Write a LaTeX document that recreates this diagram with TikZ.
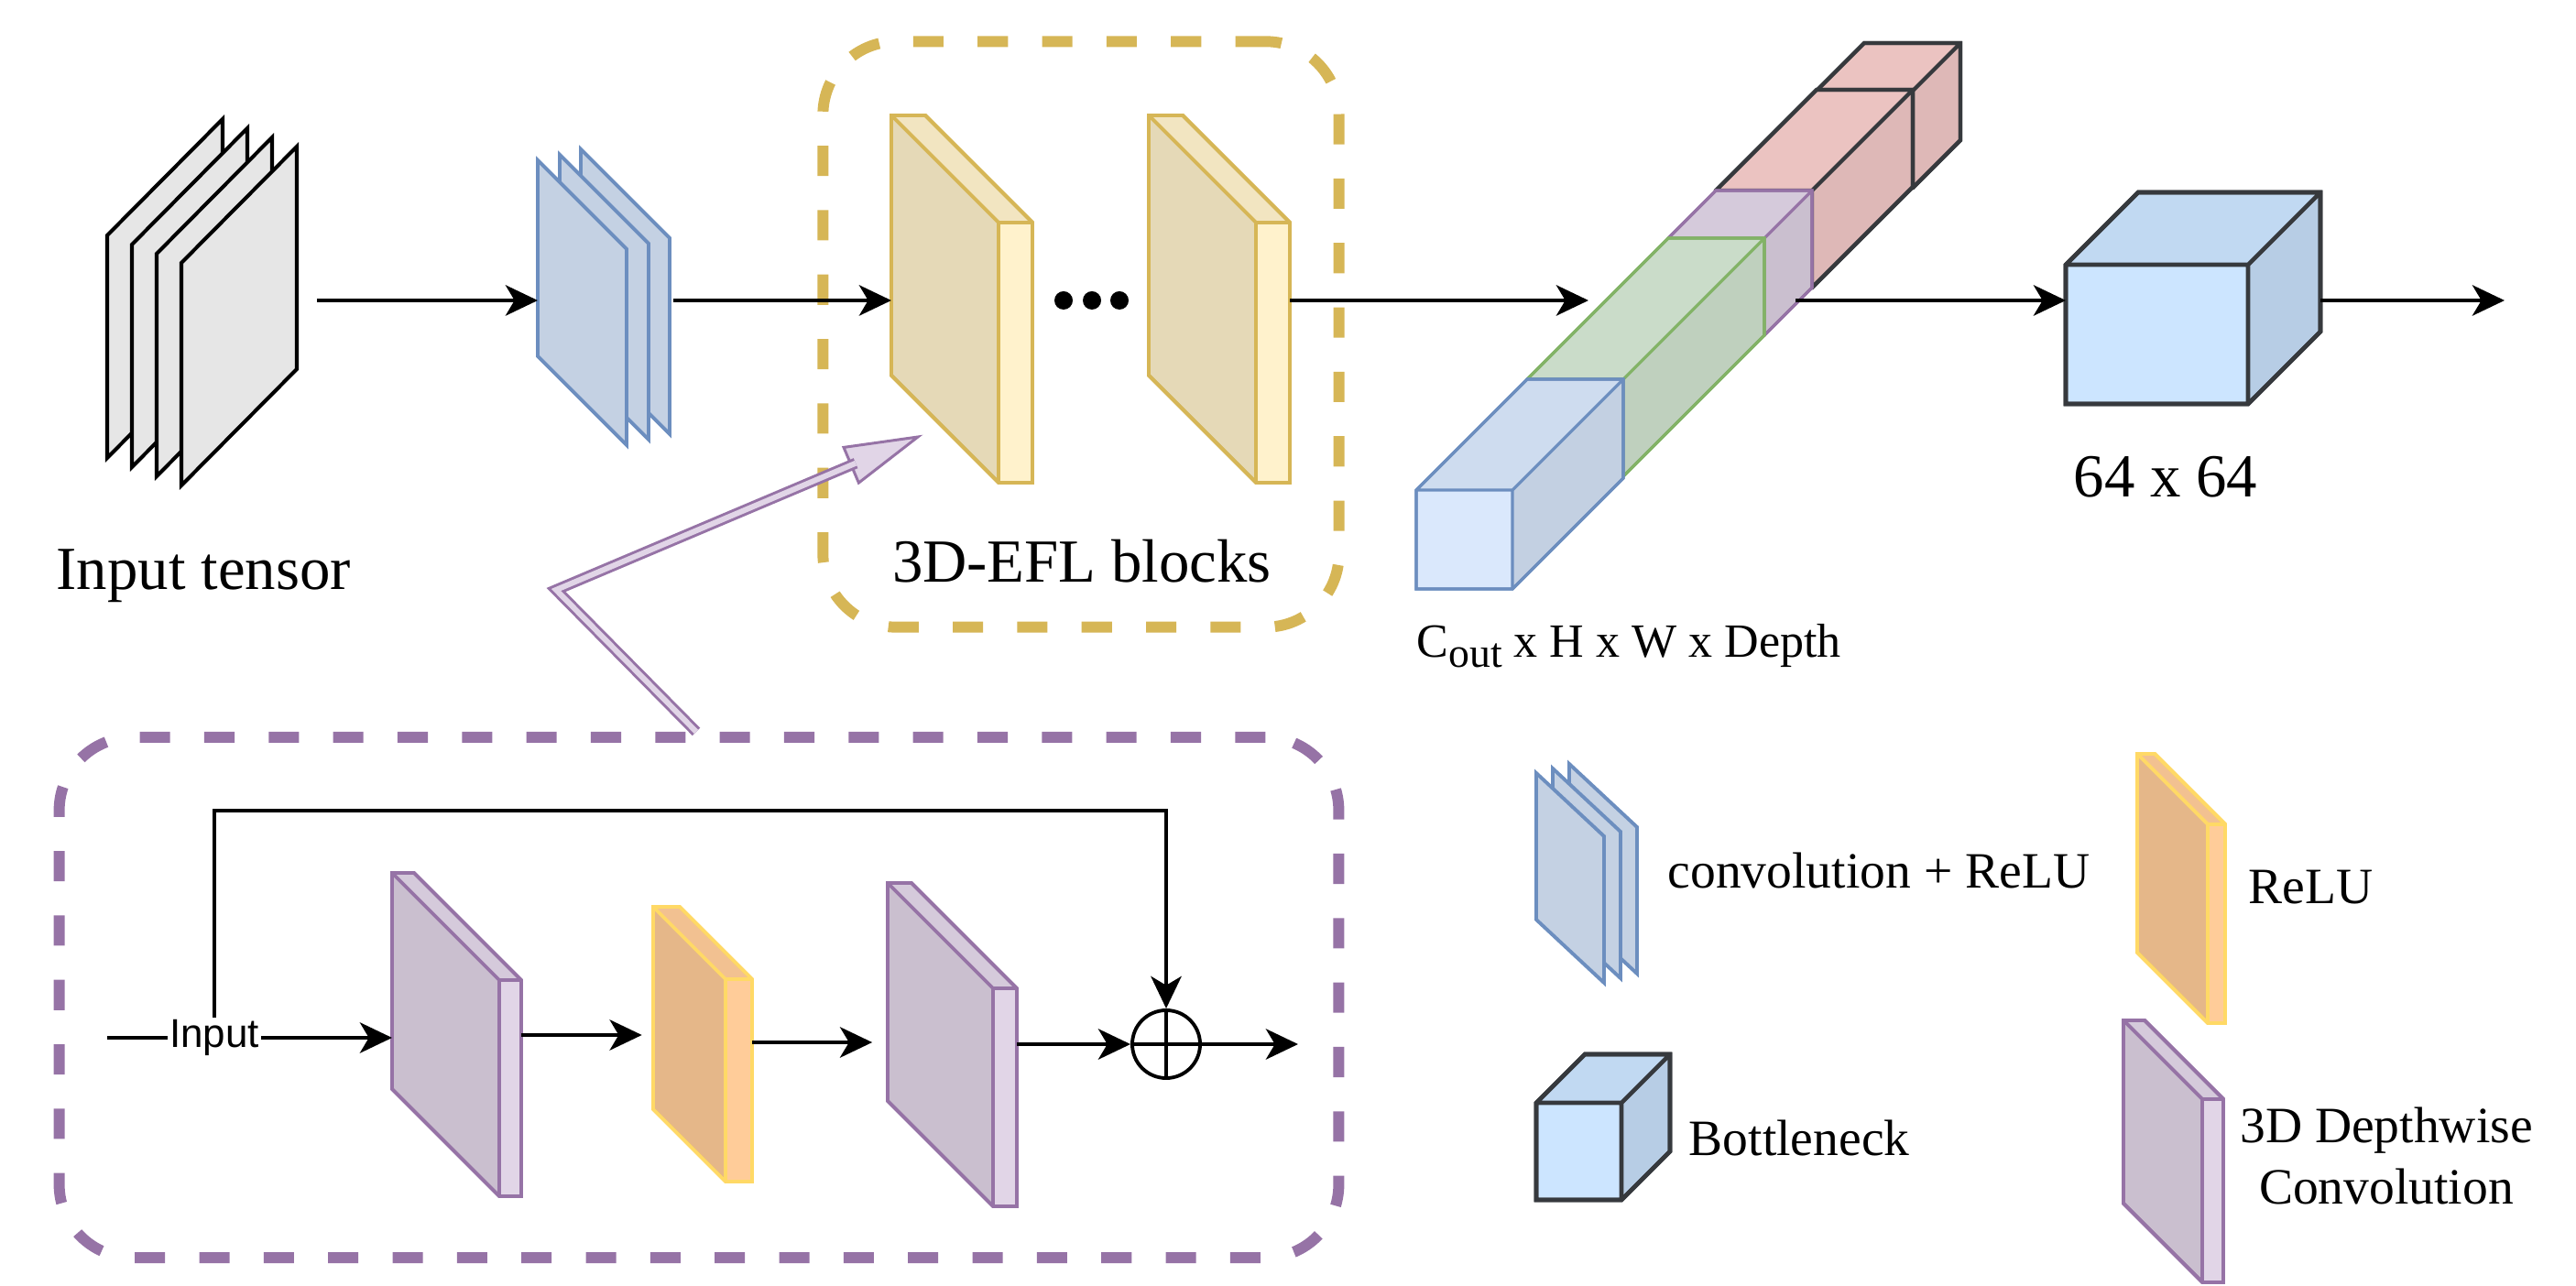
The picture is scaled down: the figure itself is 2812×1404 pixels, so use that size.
\documentclass[tikz,border=0pt]{standalone}
\usepackage{fontspec}
\setmainfont{Liberation Serif}
\newfontfamily\labelfont{Liberation Sans}
\usepackage{tikz}
\usetikzlibrary{arrows.meta,calc}

\definecolor{tensorfill}{HTML}{E6E6E6}
\definecolor{convfill}{HTML}{C4D1E3}
\definecolor{blueline}{HTML}{6C8EBF}
\definecolor{bluefill}{HTML}{DAE8FC}
\definecolor{eflline}{HTML}{D6B656}
\definecolor{eflfill}{HTML}{FFF2CC}
\definecolor{dwline}{HTML}{9673A6}
\definecolor{dwfill}{HTML}{E1D5E7}
\definecolor{reluline}{HTML}{FFD966}
\definecolor{relufill}{HTML}{FFCC99}
\definecolor{greenline}{HTML}{82B366}
\definecolor{greenfill}{HTML}{D5E8D4}
\definecolor{redfill}{HTML}{F8CECC}
\definecolor{darkline}{HTML}{36393D}
\definecolor{bnfill}{HTML}{CCE5FF}

\begin{document}
\begin{tikzpicture}[x=0.01cm,y=-0.01cm,
   arr/.style={-{Stealth[length=10pt,width=9.5pt,inset=2.8pt]},line width=1.1pt},
   tensor/.style={draw=black,fill=tensorfill,line width=1.15pt},
   conv/.style={draw=blueline,fill=convfill,line width=1.1pt},
   efl/.style={draw=eflline,fill=eflfill,line width=1.1pt},
   dw/.style={draw=dwline,fill=dwfill,line width=1.1pt},
   relu/.style={draw=reluline,fill=relufill,line width=1.1pt},
   bluecube/.style={draw=blueline,fill=bluefill,line width=0.9pt},
   greencube/.style={draw=greenline,fill=greenfill,line width=0.9pt},
   dwcube/.style={draw=dwline,fill=dwfill,line width=0.9pt},
   redcube/.style={draw=darkline,fill=redfill,line width=1.2pt},
   bncube/.style={draw=darkline,fill=bnfill,line width=1.3pt},
   dashbox/.style={draw=#1,line width=3.4pt,dash pattern=on 9.4pt off 10.6pt,
      rounded corners=0.8cm,inner sep=0pt},
   callout/.style={draw=dwline,fill=dwfill,line width=0.85pt},
   callshaft/.style={draw=dwline,double=dwfill,line width=0.85pt,double distance=1.7pt},
   dotmark/.style={circle,fill=black,inner sep=0pt,minimum size=0.2cm},
   bigtext/.style={font=\fontsize{19}{23}\selectfont,inner sep=0pt},
   legtext/.style={font=\fontsize{15.8}{19.3}\selectfont,inner sep=0pt,align=center},
   inlabel/.style={font=\labelfont\fontsize{12.5}{15}\selectfont,fill=white,inner sep=0.5pt},
   pics/sheet/.style n args={4}{code={
      \draw[#4] (0,0) -- ({#1},{-(#3)}) -- ({#1},{#2-(#3)}) -- (0,#2) -- cycle;
      \coordinate (-w) at (0,0);
      \coordinate (-e) at ({#1},{-(#3)});
   }},
   pics/slab/.style n args={4}{code={
      \draw[#4] (-#3,-#3) -- ({#1-#3},-#3) -- (#1,0) -- (#1,#2) -- (0,#2) -- ({-#3},{#2-#3}) -- cycle;
      \fill[black,opacity=.1] (0,0) -- (-#3,-#3) -- ({-#3},{#2-#3}) -- (0,#2) -- cycle;
      \fill[black,opacity=.05] (0,0) -- (-#3,-#3) -- ({#1-#3},-#3) -- (#1,0) -- cycle;
      \draw[#4,fill=none] (-#3,-#3) -- ({#1-#3},-#3) -- (#1,0) -- (#1,#2) -- (0,#2) -- ({-#3},{#2-#3}) -- cycle
         (-#3,-#3) -- (0,0) -- (#1,0) (0,0) -- (0,#2);
      \coordinate (-w) at (-#3,0);
      \coordinate (-e) at (#1,0);
   }},
   pics/cube/.style n args={4}{code={
      \draw[#4] (0,0) -- (#3,-#3) -- ({#1+#3},-#3) -- ({#1+#3},{#2-#3}) -- (#1,#2) -- (0,#2) -- cycle;
      \fill[black,opacity=.05] (0,0) -- (#3,-#3) -- ({#1+#3},-#3) -- (#1,0) -- cycle;
      \fill[black,opacity=.1] (#1,0) -- ({#1+#3},-#3) -- ({#1+#3},{#2-#3}) -- (#1,#2) -- cycle;
      \draw[#4,fill=none] (0,0) -- (#3,-#3) -- ({#1+#3},-#3) -- ({#1+#3},{#2-#3}) -- (#1,#2) -- (0,#2) -- cycle
         (0,0) -- (#1,0) -- (#1,#2) (#1,0) -- ({#1+#3},-#3);
      \coordinate (-w) at (0,0);
      \coordinate (-e) at ({#1+#3},-#3);
   }}]
   \useasboundingbox (0,0) rectangle (2812,1404);

   % dashed frames
   \node[dashbox=eflline, minimum width=5.63cm, minimum height=6.39cm] (eflbox) at (1180,365) {};
   \node[dashbox=dwline, minimum width=13.96cm, minimum height=5.68cm] (resbox) at (763,1089) {};

   % input tensor
   \pic (t0) at (117,257) {sheet={126}{243}{127}{tensor}};
   \pic (t1) at (144,267) {sheet={126}{243}{127}{tensor}};
   \pic (t2) at (171,277) {sheet={126}{243}{127}{tensor}};
   \pic (t3) at (198,287) {sheet={126}{243}{127}{tensor}};
   \node[bigtext, anchor=base west] (tensorlbl) at (61,644) {Input tensor};

   % convolution + relu
   \pic (c2) at (634,163) {sheet={97}{214}{-97}{conv}};
   \pic (c1) at (611,169) {sheet={97}{214}{-97}{conv}};
   \pic (c0) at (587,175) {sheet={97}{214}{-97}{conv}};

   % 3D-EFL blocks
   \pic (e1) at (1090,243) {slab={37}{284}{117}{efl}};
   \pic (e2) at (1371,243) {slab={37}{284}{117}{efl}};
   \node[dotmark] (dot1) at (1161,328) {};
   \node[dotmark] (dot2) at (1192,328) {};
   \node[dotmark] (dot3) at (1222,328) {};
   \node[bigtext, anchor=base] (efllbl) at (1181,636) {3D-EFL blocks};

   % feature bar
   \pic (r2) at (1983,99)  {cube={105}{106}{52}{redcube}};
   \pic (r1) at (1873,208) {cube={105}{106}{110}{redcube}};
   \pic (pu) at (1821,260) {cube={105}{106}{52}{dwcube}};
   \pic (gr) at (1667,414) {cube={105}{106}{154}{greencube}};
   \pic (bl) at (1546,535) {cube={105}{108}{121}{bluecube}};
   \coordinate (barin) at (1734,328);
   \coordinate (barout) at (1960,328);
   \node[anchor=base west, inner sep=0pt, font=\fontsize{14.8}{18}\selectfont] (shapelbl) at (1546,718)
      {C\raisebox{-.45ex}{\fontsize{13}{15}\selectfont out} x H x W x Depth};

   % bottleneck
   \pic (bn) at (2255,289) {cube={199}{152}{79}{bncube}};
   \coordinate (netout) at (2734,328);
   \node[bigtext, anchor=base] (bnlbl) at (2364,543) {64 x 64};

   \draw[arr, shorten <=6.3pt] (t3-e |- 0,328) -- (c0-w |- 0,328);
   \draw[arr, shorten <=1pt] (c2-e |- 0,328) -- (e1-w |- 0,328);
   \draw[arr] (e2-e |- 0,328) -- (barin);
   \draw[arr] (barout) -- (bn-w |- barout);
   \draw[arr] (bn-e |- netout) -- (netout);

   % residual block
   \pic (p1) at (545,1070) {slab={24}{236}{117}{dw}};
   \pic (rl) at (792,1069) {slab={29}{221}{79}{relu}};
   \pic (p2) at (1084,1079) {slab={26}{238}{115}{dw}};
   \coordinate (resin) at (117,1133);
   \node[inlabel] (inlbl) at (234,1133) {Input};
   \node[circle, draw, line width=1.1pt, minimum size=0.74cm, inner sep=0pt] (sum) at (1273,1140) {};
   \draw[line width=1.1pt] (sum.north) -- (sum.south) (sum.west) -- (sum.east);
   \coordinate (resout) at (1417,1140);

   \draw[line width=1.1pt] (resin) -- (inlbl);
   \draw[arr] (inlbl) -- (p1-w |- inlbl);
   \draw[arr, shorten >=3.5pt] (p1-e |- 0,1130) -- (rl-w |- 0,1130);
   \draw[arr, shorten >=4.8pt] (rl-e |- 0,1138) -- (p2-w |- 0,1138);
   \draw[arr] (p2-e |- sum) -- (sum);
   \draw[arr] (sum) -- (resout);
   \draw[arr] (inlbl.north) |- (sum.north |- 0,885) -- (sum.north);

   % callout
   \coordinate (callstart) at (resbox.north -| 760,0);
   \coordinate (knee) at (607,644);
   \coordinate (calltip) at (1002,477);
   \coordinate (hb) at ($(calltip)!0.79cm!(knee)$);
   \filldraw[callout] (calltip) -- ($(hb)!0.21cm!90:(calltip)$) -- ($(hb)!0.21cm!-90:(calltip)$) -- cycle;
   \draw[callshaft] (callstart) -- (knee) -- ($(hb)!1.5pt!(calltip)$);

   % legend
   \pic (lc2) at (1713,834) {sheet={74}{160}{-69}{conv}};
   \pic (lc1) at (1695,839) {sheet={74}{160}{-69}{conv}};
   \pic (lc0) at (1677,844) {sheet={74}{160}{-69}{conv}};
   \node[legtext, anchor=west] (lconv) at (1820,950) {convolution + ReLU};
   \pic (lrelu) at (2410,900) {slab={19}{217}{77}{relu}};
   \node[legtext, anchor=west] (lrelulbl) at (2454,969) {ReLU};
   \pic (lbn) at (1677,1204) {cube={93}{106}{53}{bncube}};
   \node[legtext, anchor=west] (lbnlbl) at (1843,1242) {Bottleneck};
   \pic (ldw) at (2404,1200) {slab={23}{200}{86}{dw}};
   \node[legtext] (ldwlbl) at (2605,1262) {3D Depthwise\\Convolution};
\end{tikzpicture}
\end{document}
